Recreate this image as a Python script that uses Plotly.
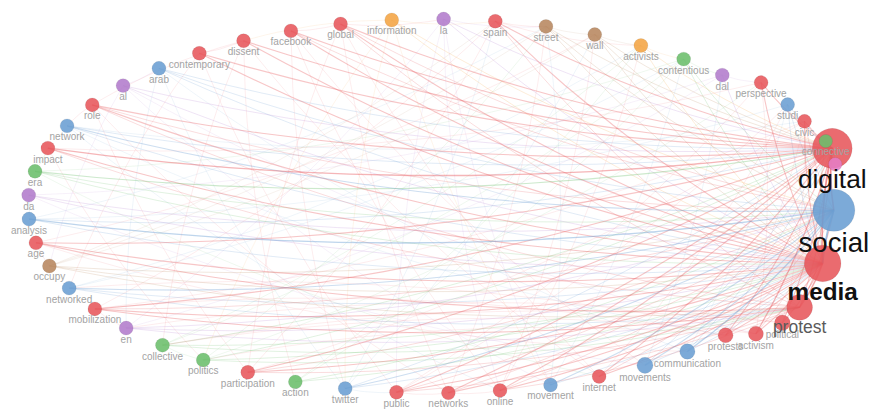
import math
import numpy as np
import plotly.graph_objects as go

# ---------------- DATA ----------------
# keywords in ring order (counter-clockwise, starting at the top)
ring_order = ["la", "information", "global", "facebook", "dissent", "contemporary", "arab", "al",
              "role", "network", "impact", "era", "da", "analysis", "age", "occupy", "networked",
              "mobilization", "en", "collective", "politics", "participation", "action", "twitter",
              "public", "networks", "online", "movement", "internet", "movements", "communication",
              "protests", "activism", "political", "protest", "media", "social", "", "digital",
              "connective", "civic", "studi", "perspective", "dal", "contentious", "activists",
              "wall", "street", "spain"]

# cluster of each keyword (1 red, 2 blue, 3 green, 4 purple, 5 orange, 6 brown, 7 pink)
cluster = [4, 5, 1, 1, 1, 1, 2, 4,
           1, 2, 1, 3, 4, 2, 1, 6, 2,
           1, 4, 3, 3, 1, 3, 2,
           1, 1, 1, 2, 1, 2, 2,
           1, 1, 1, 1, 1, 2, 7, 1,
           3, 1, 2, 1, 4, 3, 5,
           6, 6, 1]

# occurrences (node weight)
occurrences = [22, 22, 22, 22, 22, 22, 22, 22,
               22, 22, 22, 22, 22, 22, 22, 22, 22,
               22, 22, 22, 22, 22, 22, 22,
               22, 22, 22, 22, 22, 30, 27,
               26, 26, 28, 66, 106, 126, 20, 118,
               20, 22, 22, 22, 22, 22, 22,
               22, 22, 22]

# link strengths of the hub keywords
media_links = {k: (3 if c == 1 else 2) for k, c in zip(ring_order, cluster)
               if k not in ("media", "social", "digital", "protest", "")}
digital_links = {"impact": 4, "era": 3, "role": 3, "network": 2, "al": 2, "arab": 2, "contemporary": 3,
                 "dissent": 3, "facebook": 3, "global": 3, "spain": 3, "la": 2, "street": 2, "wall": 2,
                 "activists": 2, "age": 3, "analysis": 2, "mobilization": 3, "participation": 3,
                 "public": 3, "online": 3, "internet": 3, "movements": 2, "communication": 2,
                 "networks": 3, "twitter": 2, "connective": 5, "civic": 3, "perspective": 3,
                 "studi": 2, "protests": 3, "activism": 4, "political": 3, "politics": 2,
                 "collective": 2, "": 3}
social_links = {"analysis": 4, "da": 2, "networked": 3, "network": 3, "arab": 2, "twitter": 3,
                "movement": 3, "movements": 3, "communication": 4, "studi": 2, "facebook": 2,
                "information": 2, "global": 2, "occupy": 2, "street": 2, "wall": 2, "online": 2,
                "public": 2, "participation": 2, "networks": 2, "internet": 2, "action": 2,
                "role": 2, "era": 2, "mobilization": 2, "en": 2, "contentious": 2, "activism": 2,
                "protests": 2, "civic": 2}
protest_links = {"mobilization": 3, "en": 2, "networked": 2, "age": 3, "impact": 2, "role": 2,
                 "public": 2, "online": 2, "spain": 2, "global": 2, "occupy": 2, "participation": 2,
                 "politics": 2, "collective": 2}
hub_links = [("digital", "social", 6), ("digital", "media", 6), ("social", "media", 7),
             ("protest", "media", 5), ("protest", "social", 3), ("protest", "digital", 3)]
other_links = [
    ("la", "online"), ("la", "movement"), ("la", "public"), ("information", "politics"),
    ("information", "twitter"), ("information", "movement"), ("global", "networks"),
    ("global", "participation"), ("global", "internet"), ("facebook", "twitter"),
    ("facebook", "online"), ("facebook", "movements"), ("dissent", "collective"),
    ("dissent", "action"), ("dissent", "internet"), ("contemporary", "networked"),
    ("contemporary", "public"), ("arab", "twitter"), ("arab", "communication"), ("arab", "en"),
    ("al", "occupy"), ("al", "movement"), ("al", "activism"), ("role", "participation"),
    ("role", "networks"), ("network", "online"), ("network", "protests"), ("network", "civic"),
    ("impact", "politics"), ("impact", "perspective"), ("era", "contentious"), ("era", "internet"),
    ("da", "dal"), ("da", "movements"), ("analysis", "studi"), ("analysis", "street"),
    ("age", "wall"), ("age", "communication"), ("occupy", "street"), ("occupy", "wall"),
    ("occupy", "spain"), ("networked", "activists"), ("networked", "contentious"),
    ("mobilization", "spain"), ("mobilization", "civic"), ("en", "la"), ("en", "dal"),
    ("collective", "contentious"), ("collective", "activists"), ("politics", "street"),
    ("politics", "perspective"), ("participation", "civic"), ("participation", "spain"),
    ("action", "contentious"), ("action", "activists"), ("twitter", "spain"), ("twitter", "wall"),
    ("public", "perspective"), ("public", "studi"), ("networks", "street"), ("online", "wall"),
    ("online", "activists"), ("movement", "street"), ("movement", "contentious"),
    ("internet", "studi"), ("movements", "dal"), ("communication", "studi"),
    ("protests", "civic"), ("political", "civic"), ("activism", "perspective"),
    ("political", "en"), ("political", "collective"), ("activism", "collective"),
    ("activism", "networked"), ("protests", "politics"), ("protests", "mobilization"),
    ("global", "la"), ("spain", "street"), ("street", "wall"), ("information", "spain"),
    ("public", "networks"), ("networks", "online"), ("twitter", "public"),
    ("collective", "politics"), ("mobilization", "en"), ("role", "network"), ("al", "arab"),
    ("contemporary", "dissent"), ("facebook", "global"), ("wall", "activists"),
    ("activists", "contentious"), ("contentious", "dal"), ("dal", "perspective"),
    ("age", "occupy"), ("analysis", "da"), ("era", "impact"),
    ("information", "dissent"), ("la", "street"), ("spain", "activists"), ("dissent", "role"),
]

# ---------------- LAYOUT / STYLE ----------------
palette = {1: "#e8575c", 2: "#6b9fd3", 3: "#6cbf6c", 4: "#b27ccc", 5: "#f4a544",
           6: "#b8875f", 7: "#e67ec6"}
W, H = 875, 410
CX, CY, A, B = 433.0, 206.0, 405.0, 187.0
START_DEG = 88.5
# circular-layout adjustments for keywords displaced around the large hub nodes
angle_nudge = {"activism": -4.2, "political": -6.85, "protest": -9.2, "media": -3.35,
               "social": 5.7, "": 12.35, "digital": 9.7, "connective": 4.65, "civic": 3.9,
               "studi": 2.05, "perspective": 2.1}
radial_nudge = {"activism": 1.05, "political": 1.065, "protest": 1.055, "media": 1.01,
                "social": 0.99, "": 1.018, "digital": 1.033, "connective": 1.03, "civic": 1.023,
                "studi": 1.03, "perspective": 1.045}

n = len(ring_order)
pos = {}
for k, name in enumerate(ring_order):
    ang = math.radians(START_DEG + k * 360.0 / n + angle_nudge.get(name, 0.0))
    r = radial_nudge.get(name, 1.0)
    pos[name] = (CX + r * A * math.cos(ang), CY - r * B * math.sin(ang))

size = {name: 8 + 0.27 * w for name, w in zip(ring_order, occurrences)}
ncol = {name: palette[c] for name, c in zip(ring_order, cluster)}


def rgba(hexc, a):
    h = hexc.lstrip("#")
    return "rgba(%d,%d,%d,%.3f)" % (int(h[0:2], 16), int(h[2:4], 16), int(h[4:6], 16), a)


edges = []
for hub, links in (("media", media_links), ("digital", digital_links),
                   ("social", social_links), ("protest", protest_links)):
    for k, w in links.items():
        edges.append((k, hub, w))
for a_, b_, w in hub_links:
    edges.append((a_, b_, w))
for a_, b_ in other_links:
    edges.append((a_, b_, 1))

groups = {}
ts = np.linspace(0, 1, 14)
for a_, b_, w in edges:
    x0, y0 = pos[a_]
    x2, y2 = pos[b_]
    dx, dy = x2 - x0, y2 - y0
    c = 0.07
    x1 = (x0 + x2) / 2 - c * dy
    y1 = (y0 + y2) / 2 + c * dx
    xs = (1 - ts) ** 2 * x0 + 2 * (1 - ts) * ts * x1 + ts ** 2 * x2
    ys = (1 - ts) ** 2 * y0 + 2 * (1 - ts) * ts * y1 + ts ** 2 * y2
    key = (ncol[a_], w)
    gx, gy = groups.setdefault(key, ([], []))
    gx.extend(list(xs) + [None])
    gy.extend(list(ys) + [None])

fig = go.Figure()
alpha_of = {1: 0.14, 2: 0.22, 3: 0.34, 4: 0.44, 5: 0.52, 6: 0.58, 7: 0.62}
for (col, w), (gx, gy) in sorted(groups.items(), key=lambda kv: kv[0][1]):
    fig.add_trace(go.Scatter(x=gx, y=gy, mode="lines", hoverinfo="skip", showlegend=False,
                             line=dict(color=rgba(col, alpha_of[w]), width=0.6 + 0.17 * w)))

order = sorted(ring_order, key=lambda k: -size[k])
fig.add_trace(go.Scatter(
    x=[pos[k][0] for k in order], y=[pos[k][1] for k in order], mode="markers",
    hoverinfo="text", text=order, showlegend=False,
    marker=dict(size=[size[k] for k in order], color=[ncol[k] for k in order], opacity=0.88,
                line=dict(width=0.6, color="rgba(0,0,0,0.12)"))))

small = [k for k in ring_order if k and occurrences[ring_order.index(k)] < 40]
fig.add_trace(go.Scatter(
    x=[pos[k][0] for k in small], y=[pos[k][1] + size[k] / 2 + 5.0 for k in small],
    mode="text", text=small, hoverinfo="skip", showlegend=False,
    textfont=dict(family="Liberation Sans, Arial", size=10, color="#a3a3a3")))

big = [k for k in ring_order if occurrences[ring_order.index(k)] >= 40]
fsz = {k: 10 + 0.17 * (occurrences[ring_order.index(k)] - 22) for k in big}
fig.add_trace(go.Scatter(
    x=[pos[k][0] for k in big], y=[pos[k][1] + size[k] / 2 + fsz[k] / 2 for k in big],
    mode="text", hoverinfo="skip", showlegend=False,
    text=["<b>%s</b>" % k if k == "media" else k for k in big],
    textfont=dict(family="Liberation Sans, Arial", size=[fsz[k] for k in big],
                  color=["#5a5a5a" if k == "protest" else "#111111" for k in big])))

fig.update_layout(width=W, height=H, autosize=False, margin=dict(l=0, r=0, t=0, b=0),
                  paper_bgcolor="white", plot_bgcolor="white",
                  xaxis=dict(range=[0, W], visible=False, fixedrange=True),
                  yaxis=dict(range=[H, 0], visible=False, fixedrange=True))
fig.write_html("out.html", config={"displayModeBar": False},
               post_script="document.body.style.margin='0';document.body.style.overflow='hidden';")
